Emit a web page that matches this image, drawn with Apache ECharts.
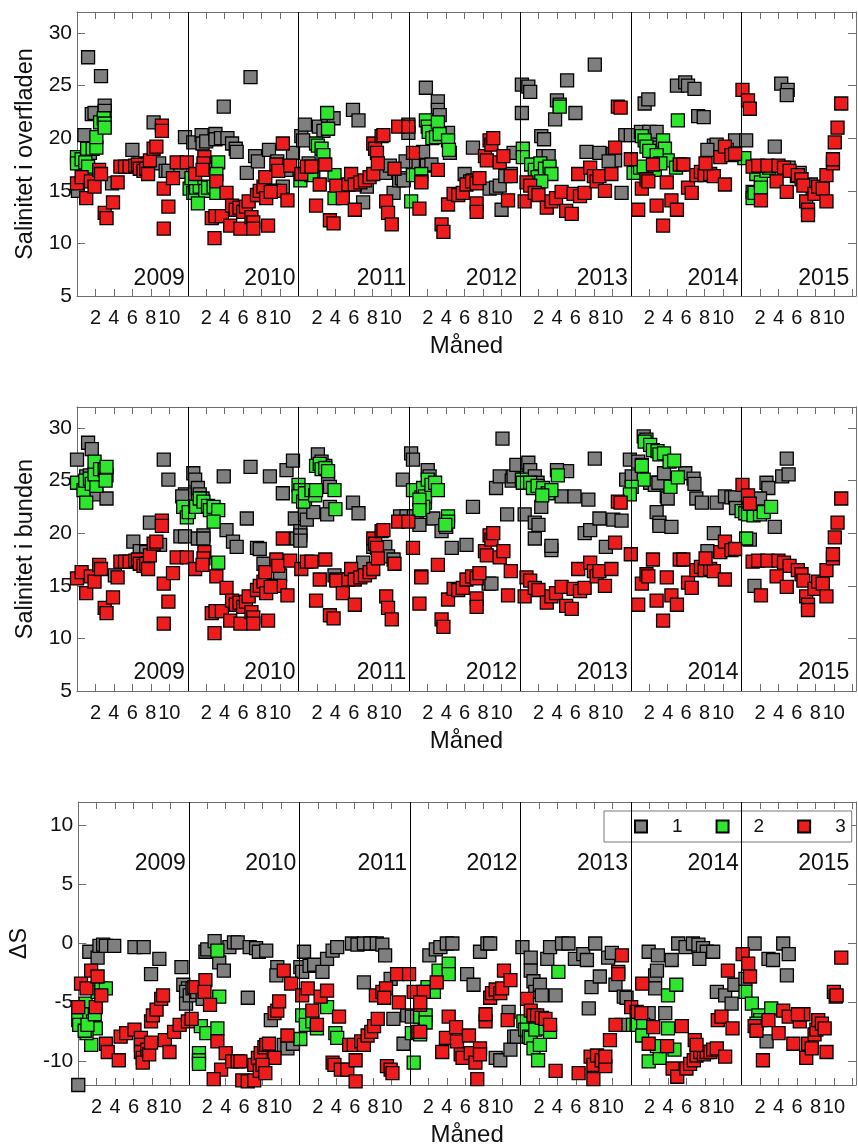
<!DOCTYPE html>
<html><head><meta charset="utf-8">
<script src="https://cdn.jsdelivr.net/npm/echarts@6/dist/echarts.min.js"></script>
<style>html,body{margin:0;padding:0;background:#fff}#c{width:858px;height:1148px}</style>
</head><body><div id="c"></div>
<script>
// ---- tick labels / categories ----
const years = ['2009','2010','2011','2012','2013','2014','2015'];
const monthTicks = [2,4,6,8,10];
const salTicks = [5,10,15,20,25,30];
const dsTicks = [-10,-5,0,5,10];
const seriesNames = ['1','2','3'];
const panelTitles = ['Salinitet i overfladen','Salinitet i bunden','ΔS'];
const xTitle = 'Måned';

// ---- data: [month index since Jan 2009, value] ----
const surf1 = [[0.1,15.0],[0.8,20.3],[1.2,27.7],[1.6,22.3],[1.9,22.4],[2.6,25.9],[3.0,23.1],[3.0,22.6],[3.8,15.7],[0.8,18.2],[1.4,18.6],[6.0,18.9],[7.5,17.6],[8.3,21.5],[8.9,17.6],[9.6,16.9],[9.9,16.9],[11.7,20.1],[11.2,16.8],
[12.6,19.6],[13.5,20.3],[13.6,19.5],[14.0,19.7],[15.0,20.4],[15.0,19.9],[15.6,20.0],[16.3,20.0],[16.8,19.5],[17.2,19.0],[17.3,18.7],[15.9,23.0],[18.8,25.8],[18.4,16.7],[19.3,18.3],[19.6,17.8],[20.8,18.9],[22.3,15.4],[23.4,18.6],[21.7,17.8],[22.7,17.0],[21.1,15.0],[20.0,14.6],
[24.3,20.2],[24.7,21.3],[24.5,19.8],[25.1,17.6],[25.6,16.7],[26.2,21.1],[26.7,20.7],[27.2,21.2],[27.8,21.9],[29.9,22.7],[30.5,21.7],[31.0,13.9],[31.4,15.4],[33.4,16.7],[33.9,17.4],[34.3,14.8],[34.9,16.0],[35.2,16.2],[35.4,16.0],[35.9,21.3],[35.9,20.5],[36.4,17.4],[35.6,17.8],
[37.8,24.8],[37.5,18.7],[37.9,17.4],[38.4,17.5],[39.1,23.5],[39.1,22.7],[39.3,22.2],[40.2,20.5],[40.4,18.6],[42.9,19.1],[42.0,16.6],[42.6,15.9],[42.9,16.0],[44.7,15.2],[45.4,15.3],[45.8,15.5],[46.0,13.2],[47.3,18.6],[46.4,16.4],[47.0,16.6],
[48.2,25.1],[48.9,24.9],[49.1,24.4],[48.2,22.4],[50.3,20.2],[50.6,19.9],[50.5,18.3],[51.1,18.3],[52.0,23.6],[52.3,23.2],[53.1,25.5],[51.8,21.8],[54.0,22.4],[55.2,18.7],[56.1,27.0],[56.6,18.6],[58.1,18.5],[58.3,17.9],[59.0,14.8],[59.4,20.3],[60.0,20.3],[57.6,17.8],
[61.5,23.3],[61.9,23.7],[61.1,20.6],[62.0,20.6],[62.8,20.6],[62.4,19.4],[62.9,19.1],[65.0,25.0],[65.9,25.3],[66.2,25.0],[66.9,24.7],[67.3,22.1],[67.9,22.0],[69.0,19.3],[69.3,19.4],[71.3,19.8],[72.5,19.8],[68.3,18.9],[70.4,18.9],
[76.3,25.2],[77.0,24.6],[76.9,24.1],[73.2,14.9],[73.4,14.4],[75.6,19.2],[78.3,16.7],[79.7,14.9],[80.3,15.2],[79.5,15.6],[78.0,16.4],[77.1,17.2]];

const surf2 = [[0.0,18.2],[0.0,17.6],[0.5,18.0],[0.9,17.7],[1.1,19.0],[1.7,19.0],[2.1,19.1],[1.6,16.7],[2.1,20.1],[2.5,21.5],[2.9,21.9],[3.0,21.4],[3.0,21.0],[1.2,17.3],
[12.2,15.2],[12.6,14.8],[12.9,15.3],[13.3,15.4],[13.9,15.0],[14.2,15.3],[14.8,15.4],[13.1,13.8],[15.1,14.8],[15.3,17.7],[15.1,16.6],[12.4,16.2],
[24.2,16.0],[24.9,17.1],[25.4,16.5],[25.9,19.5],[26.1,19.3],[26.5,19.0],[26.7,18.4],[27.1,22.4],[27.2,20.9],[27.9,16.5],[27.9,14.3],[36.2,14.0],[36.4,16.5],
[37.8,21.7],[38.0,21.1],[38.1,20.6],[38.5,20.0],[38.9,20.1],[39.1,21.5],[39.3,20.4],[40.2,19.8],[40.3,18.9],[37.3,16.6],[48.3,19.0],[48.3,18.2],
[49.2,17.5],[49.6,17.0],[49.9,16.3],[50.2,17.6],[50.7,17.1],[51.2,17.3],[51.4,16.6],[50.3,15.9],[52.3,23.0],
[60.3,16.7],[61.2,20.2],[61.5,19.8],[61.7,19.2],[62.0,18.8],[61.0,17.2],[61.4,17.3],[62.6,17.0],[63.5,19.8],[63.7,19.0],[64.0,17.9],[62.8,18.4],[65.1,21.7],[72.3,18.1],[63.2,17.6],[64.9,17.2],
[73.2,14.3],[73.4,14.8],[73.6,16.6],[74.1,15.8],[74.1,15.3],[74.7,16.9],[75.0,17.2]];

// station 3: surface and bottom values coincide in the figure
const surf3 = [[0.0,15.7],[0.5,16.3],[1.0,14.3],[1.5,15.9],[1.9,15.4],[2.4,17.0],[2.6,16.6],[3.0,12.9],[3.2,12.4],[3.9,13.9],[4.4,15.8],[4.7,17.3],[5.2,17.3],[5.7,17.3],[6.3,17.4],[6.6,17.5],[6.8,17.1],[7.2,16.9],[7.5,17.1],[7.7,16.6],[7.9,17.9],[8.3,19.0],[8.6,19.2],[9.2,21.2],[9.2,20.7],[9.4,15.2],[9.9,13.5],[9.4,11.4],[10.4,16.2],[10.8,17.7],[11.9,17.7],
[12.8,16.6],[13.8,18.2],[13.7,17.6],[13.6,17.0],[14.6,12.4],[15.0,12.6],[15.7,12.6],[14.9,10.5],[15.1,15.9],[16.2,14.8],[16.6,11.7],[17.7,11.4],[16.8,13.6],[17.2,13.2],[17.6,13.4],[18.0,13.0],[18.3,13.5],[18.6,14.0],[18.9,12.5],[19.1,12.0],[19.1,11.4],[19.5,14.6],[19.8,15.0],[20.2,15.4],[20.4,16.3],[20.7,11.7],[21.3,15.0],[22.0,15.0],[21.6,17.5],[21.8,16.9],[22.3,19.5],[22.8,14.1],[23.1,17.4],[20.5,14.3],[21.0,14.9],
[24.3,16.6],[24.9,17.3],[25.4,17.3],[26.9,17.5],[26.3,15.6],[25.9,13.6],[27.4,12.2],[27.8,11.9],[28.1,15.5],[28.8,14.3],[29.4,15.6],[29.7,16.6],[30.1,15.6],[30.1,13.2],[30.7,15.8],[31.2,16.0],[31.7,16.3],[32.1,16.6],[32.1,19.5],[32.3,19.0],[32.5,18.6],[33.0,20.2],[33.2,20.3],[32.6,17.6],[33.5,14.0],[33.7,12.9],[34.1,11.8],[34.4,17.1],[34.8,21.1],[35.9,21.1],[36.4,18.6],[37.1,13.3],[37.3,15.9],
[37.3,15.8],[39.1,17.0],[40.2,13.7],[39.5,11.8],[39.7,11.1],[40.8,14.7],[41.3,14.6],[41.8,14.8],[42.2,15.6],[42.8,15.9],[43.3,15.7],[43.6,16.2],[43.3,13.8],[43.3,13.0],[44.2,18.3],[44.4,17.9],[44.7,19.8],[44.9,19.4],[45.1,20.0],[45.8,17.7],[46.2,18.3],[47.0,16.4],[46.7,14.1],
[48.5,14.0],[48.7,15.8],[49.1,15.5],[49.6,14.8],[50.0,14.6],[50.9,13.4],[51.4,14.0],[51.9,14.3],[52.5,14.9],[53.0,13.1],[53.6,12.8],[53.8,14.7],[54.5,14.5],[55.0,14.8],[54.3,16.6],[55.6,17.2],[56.0,16.4],[56.3,15.9],[56.6,16.4],[57.2,15.0],[57.9,16.6],[58.3,19.1],[58.6,23.0],[58.9,22.9],[60.0,18.0],
[60.8,13.2],[61.2,15.2],[61.7,16.1],[61.9,15.9],[62.4,17.5],[62.8,13.6],[63.5,11.7],[63.9,15.8],[64.4,14.1],[65.0,13.2],[65.3,17.5],[65.7,17.5],[66.2,15.3],[66.6,14.8],[67.1,16.5],[67.6,16.8],[68.0,16.5],[68.6,16.6],[69.0,16.4],[68.1,17.6],[69.7,18.2],[70.2,19.2],[70.2,15.6],[70.9,18.4],[71.3,18.5],
[72.1,24.6],[72.7,23.6],[72.9,22.8],[73.2,17.3],[73.8,17.4],[74.8,17.4],[76.0,17.4],[76.6,17.2],[77.2,16.9],[74.1,14.1],[75.8,15.9],[76.9,14.9],[78.1,16.5],[78.5,16.1],[78.7,15.5],[79.0,14.0],[79.2,13.2],[79.2,12.7],[79.9,14.7],[80.3,15.4],[80.8,15.2],[81.2,14.0],[81.2,16.5],[81.9,17.6],[81.9,18.0],[82.1,19.6],[82.4,21.0],[82.8,23.3]];

const bot1 = [[0.0,27.0],[1.2,28.6],[1.6,28.0],[1.0,25.4],[1.4,25.5],[2.1,23.7],[3.2,23.3],[4.1,16.0],[6.1,19.2],[7.9,21.0],[9.4,27.0],[9.9,25.1],[9.0,18.9],[6.8,18.3],[7.5,18.2],[11.2,19.7],[11.7,19.7],[11.7,23.7],[11.4,23.5],
[12.6,25.7],[12.8,25.1],[13.1,24.3],[13.1,19.5],[13.7,19.8],[13.7,19.5],[13.3,23.7],[13.6,23.3],[15.9,25.4],[16.2,20.3],[16.9,19.2],[17.3,18.7],[18.4,21.4],[18.8,26.3],[19.5,18.6],[19.8,18.5],[20.2,17.1],[20.9,25.4],[22.0,16.0],[22.3,23.8],[22.7,26.0],[23.4,26.9],[23.6,21.4],[23.8,19.5],[24.2,20.2],[24.2,19.8],[24.2,19.3],
[24.7,22.4],[24.7,21.8],[24.9,21.3],[25.6,22.0],[26.1,27.5],[26.5,26.8],[26.9,26.4],[27.2,25.2],[27.4,24.4],[27.4,22.5],[27.1,21.8],[29.9,22.9],[30.5,21.9],[27.9,16.0],[28.1,15.6],[31.0,17.2],[32.1,18.7],[33.4,18.7],[33.7,17.8],[34.3,17.5],[35.0,21.6],[35.3,25.1],[35.7,21.6],[36.2,27.6],[36.4,27.0],[36.8,21.2],[36.5,21.6],
[37.1,20.8],[38.0,26.0],[38.2,25.4],[38.6,21.4],[39.5,20.2],[40.0,20.6],[40.6,18.6],[42.2,18.9],[42.9,22.5],[44.6,15.2],[44.9,15.2],[45.4,24.3],[45.8,25.4],[46.1,29.0],[46.6,21.8],[47.1,25.0],[47.3,25.4],[47.6,26.5],
[48.3,25.1],[48.9,26.7],[49.1,26.0],[49.6,25.4],[49.9,24.8],[48.5,21.8],[49.6,21.0],[50.0,20.8],[49.6,19.5],[50.3,22.5],[51.4,18.4],[51.4,18.8],[52.5,23.5],[53.1,25.9],[52.0,26.0],[53.9,23.5],[55.4,23.2],[56.1,27.1],[55.0,20.0],[55.6,20.3],[56.6,21.4],[57.3,18.7],[58.1,21.3],[59.0,21.2],[59.5,25.1],[60.1,25.4],
[61.4,29.2],[61.7,28.9],[59.9,27.0],[60.8,26.8],[61.2,26.5],[62.1,24.8],[62.6,24.6],[63.0,24.8],[63.6,25.7],[63.9,23.5],[64.0,23.3],[62.8,22.0],[63.1,21.0],[63.1,20.7],[64.4,20.6],[65.9,25.7],[66.8,25.2],[66.9,24.7],[67.1,23.3],[67.7,22.9],[69.3,22.9],[70.2,23.5],[70.9,23.4],[71.3,23.4],[71.4,22.4],[69.0,20.0],[68.3,18.3],
[76.9,27.1],[76.4,25.4],[77.1,25.6],[74.7,24.8],[74.9,24.3],[74.0,23.3],[75.6,20.6],[73.4,15.0],[72.9,19.4]];

const bot2 = [[0.0,24.8],[0.7,24.1],[1.0,22.9],[0.9,25.0],[1.4,25.2],[1.6,24.7],[2.1,24.5],[1.9,25.6],[1.9,26.8],[2.5,26.1],[3.0,26.0],[3.2,25.5],[3.2,26.3],[3.1,25.0],
[11.5,22.5],[11.9,21.5],[12.1,22.0],[12.9,22.5],[13.3,23.3],[13.7,23.0],[14.2,22.6],[14.4,22.2],[14.8,22.5],[15.3,22.2],[14.8,21.1],[15.3,17.2],
[24.0,24.6],[24.2,24.1],[24.0,23.5],[24.5,23.0],[24.7,23.8],[25.4,24.1],[25.8,23.6],[25.9,24.1],[25.9,26.4],[26.3,26.6],[26.5,26.1],[26.9,26.2],[27.2,25.9],[27.9,24.1],[28.0,22.3],[36.4,24.1],[37.3,23.4],[37.7,22.9],
[37.5,24.3],[37.7,23.5],[37.5,22.5],[38.0,25.1],[38.4,24.6],[38.8,24.8],[39.1,24.1],[40.2,21.6],[40.2,21.1],[39.9,20.8],[37.1,23.2],[37.1,22.2],
[48.2,25.1],[48.3,24.8],[49.1,24.8],[49.4,24.3],[49.9,24.5],[50.5,24.3],[51.0,23.8],[51.4,24.1],[52.1,25.5],[50.4,23.6],
[61.5,28.7],[62.1,28.4],[62.4,27.9],[62.9,27.8],[63.1,27.5],[63.6,27.6],[64.2,26.8],[64.7,26.9],[61.2,26.4],[61.4,25.1],[60.1,24.4],[59.9,23.7],[64.3,24.4],[65.1,25.3],[72.5,19.5],
[72.0,22.1],[72.4,21.9],[72.7,21.8],[73.3,21.7],[74.0,21.8],[74.4,22.0],[75.2,22.5]];

const bot3 = surf3;

const ds1 = [[0.0,-12.0],[1.2,-0.7],[2.1,-1.2],[2.3,-0.2],[2.7,-0.1],[3.0,-0.2],[3.9,-0.2],[6.1,-0.3],[7.1,-0.3],[8.8,-1.3],[7.9,-2.6],[11.2,-2.0],[11.4,-3.5],[11.9,-3.8],[11.7,-4.1],[11.7,-5.1],[12.1,-4.4],
[12.4,-3.8],[12.9,-4.1],[13.5,-4.7],[13.8,-0.7],[14.0,-0.5],[14.8,0.2],[15.3,-1.6],[15.8,-2.3],[16.4,-0.3],[16.9,0.1],[17.3,0.1],[18.4,-4.6],[18.6,-0.3],[19.3,-0.4],[19.6,-0.7],[20.4,-0.6],[21.6,-2.0],[21.5,-2.7],[20.9,-6.5],[22.3,-8.6],[22.7,-8.9],[23.3,-8.5],
[24.1,-2.0],[24.3,-2.4],[24.5,-0.7],[25.1,-1.9],[25.6,-1.8],[26.5,-2.4],[27.0,-1.3],[27.6,-0.6],[28.1,-0.3],[29.7,0.0],[30.3,-0.1],[31.0,0.0],[31.7,0.0],[32.4,0.0],[33.0,-0.1],[33.3,-1.0],[31.0,-3.3],[33.9,-3.0],[34.2,-6.4],[35.3,-8.5],[35.7,-6.1],[36.2,-6.2],
[38.1,-1.0],[38.8,-0.5],[39.3,-0.3],[40.0,0.0],[40.6,0.0],[42.2,-2.6],[42.9,-3.5],[43.6,-0.7],[44.4,0.0],[44.7,0.0],[45.3,-9.7],[45.8,-9.9],[46.7,-5.8],[46.9,-9.0],[47.3,-7.9],[47.6,-7.9],[48.2,-0.3],
[49.1,-1.2],[49.1,-2.3],[49.4,-3.2],[49.6,-4.1],[50.1,-3.5],[50.3,-4.4],[50.9,-1.3],[51.2,-0.3],[52.5,0.0],[53.2,0.0],[51.8,-4.4],[53.9,-1.3],[54.8,-0.9],[55.2,-1.4],[56.1,0.0],[55.4,-5.5],[55.7,-3.7],[56.6,-2.8],[57.5,-1.2],[57.9,-0.8],[58.3,-3.5],[59.2,-4.5],[59.5,-4.6],[59.0,-6.9],
[60.8,-6.0],[61.3,-6.0],[61.9,-5.9],[61.9,-0.7],[62.6,-2.7],[62.8,-2.3],[62.6,-3.8],[62.9,-1.0],[63.7,-5.9],[64.4,-1.4],[65.1,0.0],[65.9,-0.3],[66.7,0.0],[67.3,-0.1],[67.8,-0.4],[68.2,-0.7],[68.9,-0.7],[67.4,-1.3],[69.3,-4.1],[70.2,-4.4],[70.9,-5.1],[71.2,-3.5],[72.4,-3.0],
[73.4,0.0],[74.9,-1.3],[75.4,-1.4],[76.5,0.0],[77.1,-0.9],[76.9,-2.7],[74.7,-8.3]];

const ds2 = [[0.0,-6.5],[0.1,-6.9],[0.8,-5.1],[1.2,-6.0],[1.6,-6.6],[1.9,-7.2],[1.4,-8.6],[0.9,-7.6],[0.7,-7.4],[1.0,-6.9],[1.8,-6.0],[2.1,-4.1],[2.5,-3.8],[3.0,-3.8],
[13.1,-9.3],[13.1,-9.9],[13.1,-10.2],[13.3,-7.0],[13.9,-7.6],[15.1,-7.2],[15.3,-4.5],[15.1,-0.6],[24.1,-8.1],
[24.3,-6.1],[24.7,-6.9],[25.4,-6.6],[25.9,-7.2],[27.0,-5.4],[27.9,-7.6],[28.1,-8.0],[36.4,-10.1],[36.2,-7.6],[37.1,-7.7],[37.6,-6.4],
[37.1,-6.2],[37.7,-6.1],[37.7,-6.7],[37.9,-3.7],[38.6,-4.1],[39.1,-2.3],[40.2,-1.7],[40.2,-2.6],[48.3,-6.6],[48.5,-7.3],
[48.9,-7.9],[49.1,-8.0],[49.4,-8.9],[49.9,-9.9],[50.1,-8.6],[49.6,-7.3],[50.7,-7.2],[51.2,-7.5],[52.1,-2.4],
[60.2,-6.9],[60.6,-6.9],[61.3,-6.9],[61.2,-7.8],[61.9,-10.0],[63.1,-9.7],[64.0,-4.4],[64.9,-3.5],[64.0,-7.2],[64.7,-9.0],[62.8,-8.7],[72.4,-4.1],
[73.1,-5.1],[73.8,-6.1],[74.0,-6.5],[75.2,-5.5],[73.6,-6.8]];

const ds3 = [[0.0,-5.4],[0.3,-3.4],[0.9,-3.8],[1.4,-2.3],[2.1,-2.8],[1.9,-5.4],[2.5,-4.4],[3.0,-8.5],[3.2,-9.2],[4.4,-9.9],[4.6,-7.9],[5.2,-7.6],[6.1,-7.3],[6.8,-8.0],[6.8,-8.6],[6.8,-9.2],[7.0,-9.7],[7.0,-10.1],[7.5,-9.0],[7.7,-9.4],[7.9,-8.4],[7.9,-6.6],[8.1,-6.1],[8.5,-5.6],[9.0,-4.7],[9.2,-4.4],[9.4,-8.2],[9.9,-9.2],[10.4,-7.5],[11.0,-6.9],[11.9,-6.6],[12.3,-6.4],
[12.6,-3.7],[13.8,-3.1],[13.7,-4.1],[14.3,-5.2],[15.1,-8.3],[16.0,-9.3],[15.5,-10.7],[14.7,-11.5],[16.7,-10.0],[17.3,-10.0],[17.6,-10.0],[17.8,-11.6],[18.4,-11.7],[19.1,-11.6],[19.1,-10.3],[19.5,-9.7],[19.8,-9.3],[20.2,-8.8],[20.4,-8.6],[20.7,-8.5],[21.3,-9.7],[21.3,-5.9],[21.6,-5.7],[21.8,-4.9],[22.3,-2.3],[23.1,-3.4],[22.7,-7.8],[19.7,-10.8],[20.0,-10.3],[20.3,-11.0],
[24.3,-4.4],[24.9,-3.8],[25.4,-5.7],[25.9,-6.9],[26.3,-4.5],[27.0,-4.0],[28.3,-6.2],[27.6,-10.1],[27.8,-10.3],[28.5,-10.7],[29.2,-10.7],[30.1,-9.9],[30.1,-11.7],[29.4,-8.6],[29.9,-8.6],[30.7,-8.3],[31.0,-8.6],[31.4,-7.8],[31.8,-7.5],[32.1,-7.0],[32.5,-6.4],[32.3,-4.4],[33.0,-4.1],[33.4,-3.8],[33.2,-4.6],[33.5,-10.4],[33.9,-10.7],[34.1,-11.0],[34.6,-2.6],[34.8,-5.0],[35.9,-2.6],[36.4,-4.1],[37.1,-5.2],[36.9,-7.5],
[37.5,-4.1],[37.1,-5.0],[38.9,-3.3],[37.1,-7.5],[39.5,-9.2],[39.9,-8.0],[40.2,-6.2],[41.0,-7.1],[41.1,-8.3],[41.5,-9.4],[41.7,-9.7],[42.4,-7.8],[42.6,-9.3],[43.1,-10.1],[43.3,-11.5],[43.6,-8.9],[43.6,-9.4],[44.2,-6.6],[44.2,-6.0],[44.7,-4.6],[44.9,-4.2],[45.3,-3.9],[45.8,-4.2],[46.0,-3.8],[46.2,-2.3],[46.9,-3.1],[46.6,-6.5],
[48.7,-4.7],[49.1,-5.7],[49.4,-6.1],[49.8,-6.1],[50.3,-6.3],[50.7,-6.4],[51.2,-6.9],[51.8,-10.8],[54.3,-11.0],[55.6,-9.6],[55.9,-10.3],[56.3,-9.5],[56.8,-9.9],[57.2,-10.4],[57.2,-9.6],[55.9,-11.5],[58.3,-6.9],[57.7,-8.2],[58.6,-2.4],[58.6,-2.6],[59.0,-1.0],[60.0,-5.4],[60.6,-5.8],[61.1,-5.9],
[61.2,-3.4],[61.9,-8.5],[62.4,-7.1],[63.9,-8.7],[64.5,-10.6],[65.0,-11.3],[65.5,-7.0],[66.0,-10.6],[66.4,-10.2],[66.8,-9.9],[67.1,-9.5],[67.5,-9.2],[67.9,-9.4],[68.2,-9.2],[68.6,-9.2],[68.9,-9.0],[69.3,-8.9],[66.9,-8.2],[67.1,-8.6],[70.2,-9.6],[70.5,-2.3],[69.4,-6.5],[69.8,-6.2],[71.0,-7.2],
[72.1,-0.9],[72.7,-1.7],[72.9,-2.8],[73.4,-7.0],[73.6,-7.4],[74.3,-9.9],[74.9,-6.5],[76.0,-7.6],[76.5,-5.7],[77.1,-6.2],[77.6,-8.5],[78.3,-6.6],[78.7,-6.0],[78.1,-6.0],[79.0,-9.7],[79.2,-8.5],[79.6,-8.9],[79.9,-7.7],[80.1,-7.3],[80.3,-6.5],[80.7,-6.8],[81.0,-7.2],[81.2,-9.2],[82.0,-4.1],[82.2,-4.5],[82.3,-4.4],[82.8,-1.2]];

// ---- build chart ----
const FONT = "'Liberation Sans', Arial, Helvetica, sans-serif";
const colors = ['#7f7f7f', '#2ee62e', '#ee1c1c'];
const xMax = 84.4;
const xTickVals = [];
years.forEach((y, i) => { [0].concat(monthTicks).forEach(m => { if (i * 12 + m > 0) xTickVals.push(i * 12 + m); }); });
xTickVals.push(years.length * 12);
const xLabelVals = [];
years.forEach((y, i) => monthTicks.forEach(m => xLabelVals.push(i * 12 + m)));
const yearLineVals = years.slice(0, -1).map((y, i) => (i + 1) * 12);

const panels = [
  { data: [surf1, surf2, surf3], min: 5, max: 32, ticks: salTicks, title: panelTitles[0], nameGap: 33, yearY: 6.65, grid: { left: 77, top: 12, width: 779, height: 284 } },
  { data: [bot1, bot2, bot3], min: 5, max: 32, ticks: salTicks, title: panelTitles[1], nameGap: 33, yearY: 6.7, grid: { left: 77, top: 407, width: 779, height: 284 } },
  { data: [ds1, ds2, ds3], min: -12, max: 12, ticks: dsTicks, title: panelTitles[2], nameGap: 36, yearY: 6.75, grid: { left: 77, top: 802, width: 779, height: 285 } }
];

const axisLineStyle = { color: '#6e6e6e', width: 1 };
const grid = [], xAxis = [], yAxis = [], series = [];
panels.forEach((p, i) => {
  grid.push(p.grid);
  xAxis.push({
    gridIndex: i, type: 'value', min: 0, max: xMax, position: 'bottom',
    name: xTitle, nameLocation: 'middle', nameGap: 38,
    nameTextStyle: { fontFamily: FONT, fontSize: 24, color: '#111' },
    axisLine: { show: true, onZero: false, lineStyle: axisLineStyle },
    axisTick: { show: true, inside: true, length: 7, customValues: xTickVals, lineStyle: axisLineStyle },
    axisLabel: { show: true, customValues: xLabelVals, margin: 12, fontFamily: FONT, fontSize: 20, color: '#111',
      formatter: v => String(Math.round(v) % 12) },
    splitLine: { show: false }
  });
  xAxis.push({
    gridIndex: i, type: 'value', min: 0, max: xMax, position: 'top',
    axisLine: { show: true, onZero: false, lineStyle: axisLineStyle },
    axisTick: { show: true, inside: true, length: 7, customValues: xTickVals, lineStyle: axisLineStyle },
    axisLabel: { show: false }, splitLine: { show: false }
  });
  yAxis.push({
    gridIndex: i, type: 'value', min: p.min, max: p.max, position: 'left',
    name: p.title, nameLocation: 'middle', nameGap: p.nameGap,
    nameTextStyle: { fontFamily: FONT, fontSize: 23.5, color: '#111' },
    axisLine: { show: true, onZero: false, lineStyle: axisLineStyle },
    axisTick: { show: true, inside: true, length: 8, customValues: p.ticks, lineStyle: axisLineStyle },
    axisLabel: { show: true, customValues: p.ticks, margin: 5, fontFamily: FONT, fontSize: 21, color: '#111' },
    splitLine: { show: false }
  });
  yAxis.push({
    gridIndex: i, type: 'value', min: p.min, max: p.max, position: 'right',
    axisLine: { show: true, onZero: false, lineStyle: axisLineStyle },
    axisTick: { show: true, inside: true, length: 8, customValues: p.ticks, lineStyle: axisLineStyle },
    axisLabel: { show: false }, splitLine: { show: false }
  });
  // year separators + year labels
  series.push({
    name: 'years' + i, type: 'custom', xAxisIndex: 2 * i, yAxisIndex: 2 * i, silent: true,
    data: years.map((y, k) => [(k + 1) * 12, p.yearY]),
    renderItem: (params, api) => {
      const pt = api.coord([api.value(0), api.value(1)]);
      return { type: 'text', x: pt[0] - 3, y: pt[1],
        style: { text: years[params.dataIndex], fill: '#111', font: "23px " + FONT,
                 align: 'right', verticalAlign: 'middle', textAlign: 'right', textVerticalAlign: 'middle' } };
    },
    markLine: { silent: true, symbol: ['none', 'none'], label: { show: false },
      lineStyle: { color: '#000', width: 1, type: 'solid' },
      data: yearLineVals.map(v => ({ xAxis: v })) },
    z: 1
  });
  p.data.forEach((d, k) => {
    series.push({
      name: seriesNames[k], type: 'scatter', xAxisIndex: 2 * i, yAxisIndex: 2 * i,
      symbol: 'rect', symbolSize: 13, data: d,
      itemStyle: { color: colors[k], borderColor: '#000', borderWidth: 1.3, opacity: 1 },
      z: 2 + k
    });
  });
});

const chart = echarts.init(document.getElementById('c'), null, { renderer: 'canvas' });
chart.setOption({
  animation: false,
  backgroundColor: '#fff',
  grid, xAxis, yAxis, series,
  legend: {
    data: seriesNames, left: 604, top: 811, orient: 'horizontal',
    padding: [6, 6, 6, 30], itemGap: 33, itemWidth: 12, itemHeight: 12, icon: 'rect',
    borderColor: '#7a7a7a', borderWidth: 1, backgroundColor: '#fff',
    textStyle: { fontFamily: FONT, fontSize: 19, color: '#111', padding: [2, 0, 0, 20] },
    selectedMode: false
  }
});
</script></body></html>
